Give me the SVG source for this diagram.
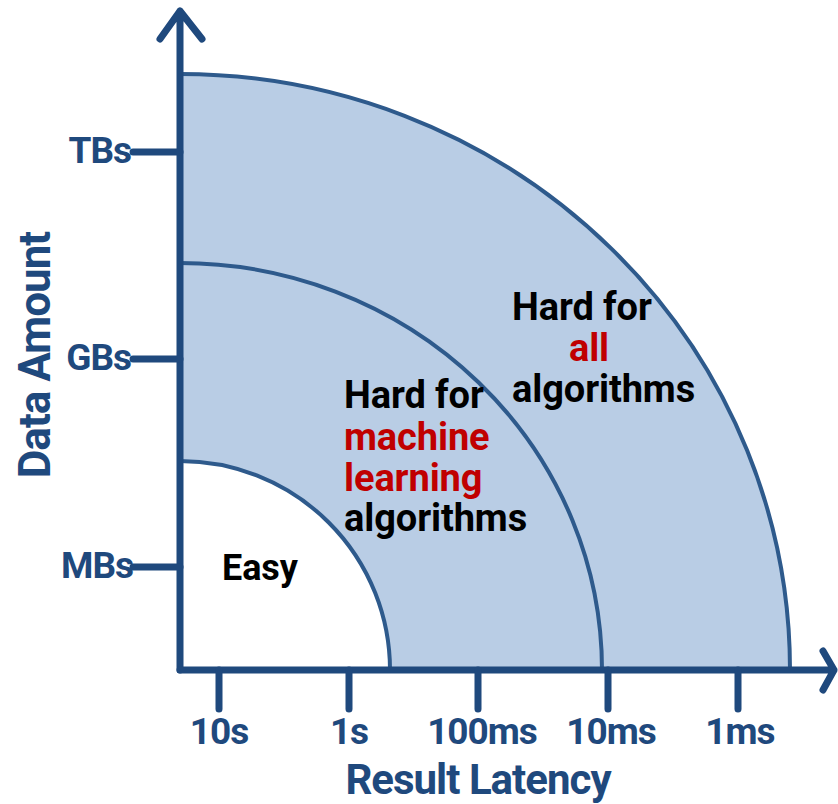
<svg xmlns="http://www.w3.org/2000/svg" width="838" height="804" viewBox="0 0 838 804">
<style>
.axis{stroke:#1f497d;stroke-width:7;stroke-linecap:round;stroke-linejoin:round;fill:none}
.arc{stroke:#2e5a8c;stroke-width:4;fill:none}
.lab{font-family:Roboto,"Liberation Sans",sans-serif;font-weight:bold;fill:#1f497d;font-size:37px;letter-spacing:-1px}
.txt{font-family:Roboto,"Liberation Sans",sans-serif;font-weight:bold;fill:#000;font-size:38px;letter-spacing:-0.1px}
.red{fill:#c00000}
</style>
<rect width="838" height="804" fill="#fff"/>
<g id="regions">
<path d="M180,670 L790,670 A610,596 0 0 0 180,74 Z" fill="#b9cde5"/>
<path d="M180,670 L390,670 A210,209 0 0 0 180,461 Z" fill="#fff"/>
</g>
<g id="connectors">
<path class="arc" d="M790,670 A610,596 0 0 0 180,74"/>
<path class="arc" d="M602,670 A422,407 0 0 0 180,263"/>
<path class="arc" d="M390,670 A210,209 0 0 0 180,461"/>
<path class="axis" d="M180,670 L180,11 M160,39 L180,11 L202,39"/>
<path class="axis" d="M180,670 L834,670 M823,651 L834,670 L823,690"/>
<path class="axis" d="M133,152 L180,152 M133,359 L180,359 M133,567 L180,567"/>
<path class="axis" d="M219,670 L219,709 M349,670 L349,709 M478,670 L478,709 M608,670 L608,709 M738,670 L738,709"/>
</g>
<g id="y-labels">
<text class="lab" x="131" y="163" text-anchor="end">TBs</text>
<text class="lab" x="131" y="370" text-anchor="end">GBs</text>
<text class="lab" x="133" y="578" text-anchor="end">MBs</text>
<text class="lab" transform="translate(50,355) rotate(-90)" text-anchor="middle" style="font-size:44px">Data Amount</text>
</g>
<g id="x-labels">
<text class="lab" x="219" y="744" text-anchor="middle">10s</text>
<text class="lab" x="349" y="744" text-anchor="middle">1s</text>
<text class="lab" x="482" y="744" text-anchor="middle">100ms</text>
<text class="lab" x="611" y="744" text-anchor="middle">10ms</text>
<text class="lab" x="740" y="744" text-anchor="middle">1ms</text>
<text class="lab" x="478" y="794" text-anchor="middle" style="font-size:42px">Result Latency</text>
</g>
<g id="easy">
<text class="txt" x="222" y="580" style="font-size:36px">Easy</text>
</g>
<g id="ml">
<text class="txt" x="344" y="408">Hard for</text>
<text class="txt red" x="344" y="450">machine</text>
<text class="txt red" x="344" y="491">learning</text>
<text class="txt" x="344" y="531">algorithms</text>
</g>
<g id="all">
<text class="txt" x="512" y="320">Hard for</text>
<text class="txt red" x="589" y="361" text-anchor="middle">all</text>
<text class="txt" x="512" y="402">algorithms</text>
</g>
</svg>
